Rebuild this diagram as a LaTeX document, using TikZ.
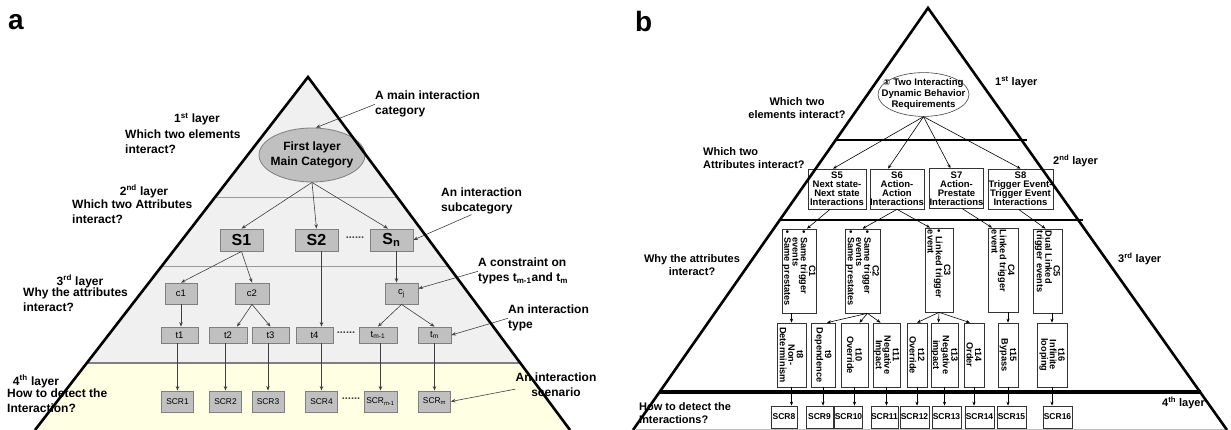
\documentclass[tikz,border=0pt]{standalone}
\usepackage{fontspec}
\setmainfont{Liberation Sans}
\newfontfamily\symfont{DejaVu Sans}
\usetikzlibrary{arrows.meta,calc,shapes.geometric}

\definecolor{layergray}{HTML}{F0F0F0}
\definecolor{layeryellow}{HTML}{FFFFE3}
\definecolor{boxgray}{HTML}{C0C0C0}
\definecolor{boxedge}{HTML}{7F7F7F}
\definecolor{rulegray}{HTML}{9A9A9A}
\definecolor{arrowgray}{HTML}{404040}

\begin{document}
\begin{tikzpicture}[x=1pt,y=-1pt,
  edge/.style={line width=2.6pt, line join=miter},
  panellabel/.style={font=\fontsize{28}{28}\selectfont\bfseries, inner sep=0pt, anchor=base west},
  % panel a
  qa/.style={font=\fontsize{12}{15}\selectfont\bfseries, inner sep=0pt, align=left, anchor=north west},
  layera/.style={font=\fontsize{12}{15}\selectfont\bfseries, inner sep=0pt, anchor=north},
  gbox/.style={draw=boxedge, fill=boxgray, line width=0.8pt, inner sep=0pt},
  sbox/.style={gbox, minimum width=43pt, minimum height=22pt, font=\fontsize{16}{16}\selectfont\bfseries},
  cbox/.style={gbox, minimum height=21pt, font=\fontsize{9.5}{10}\selectfont},
  tbox/.style={gbox, minimum height=16pt, font=\fontsize{9.5}{10}\selectfont},
  scrbox/.style={gbox, minimum width=32pt, minimum height=21pt, font=\fontsize{8.4}{9}\selectfont},
  dots/.style={font=\fontsize{11}{11}\selectfont\bfseries, inner sep=0pt, text=arrowgray},
  arr/.style={-{Stealth[length=4.5pt,width=3.5pt]}, line width=0.6pt, draw=arrowgray},
  % panel b
  qb/.style={font=\fontsize{11}{13.5}\selectfont\bfseries, inner sep=0pt},
  bS/.style={draw=black!80, line width=0.7pt, inner sep=0pt, align=center, minimum height=40pt,
    font=\fontsize{9.5}{8.9}\selectfont\bfseries},
  rC/.style={draw=black!80, line width=0.7pt, rotate=-90, inner sep=0pt, minimum width=84pt,
    text width=80pt, align=left, font=\fontsize{9.2}{8.3}\selectfont\bfseries},
  rT/.style={draw=black!80, line width=0.7pt, rotate=-90, inner sep=0pt, minimum width=64pt,
    align=center, font=\fontsize{9.2}{8.5}\selectfont\bfseries},
  scrb/.style={draw=black!80, line width=0.7pt, inner sep=0pt, minimum height=22pt,
    font=\fontsize{8.5}{9}\selectfont\bfseries},
  arrb/.style={-{Stealth[length=4pt,width=3.2pt]}, line width=0.6pt, draw=black},
]
\useasboundingbox (0,0) rectangle (1231,430);

% ================= panel a =================
\node[panellabel] (labA) at (8,30) {a};

\coordinate (aTop) at (308,77);
\coordinate (aBL) at (35,430);
\coordinate (aBR) at (570,430);
\coordinate (a1L) at ($(aTop)!0.34278!(aBL)$);
\coordinate (a1R) at ($(aTop)!0.34278!(aBR)$);
\coordinate (a2L) at ($(aTop)!0.53541!(aBL)$);
\coordinate (a2R) at ($(aTop)!0.53541!(aBR)$);
\coordinate (a3L) at ($(aTop)!0.81020!(aBL)$);
\coordinate (a3R) at ($(aTop)!0.81020!(aBR)$);

\fill[layergray] (aTop) -- (a3L) -- (a3R) -- cycle;
\fill[layeryellow] (a3L) -- (aBL) -- (aBR) -- (a3R) -- cycle;
\draw[rulegray, line width=1pt] (a1L) -- (a1R);
\draw[rulegray, line width=1pt] (a2L) -- (a2R);
\draw[boxedge, line width=1.6pt] (a3L) -- (a3R);

% layer questions
\node[layera] (La1) at (197,113) {1\textsuperscript{st} layer};
\node[qa] (Qa1) at (125,130) {Which two elements\\interact?};
\node[layera] (La2) at (144,185) {2\textsuperscript{nd} layer};
\node[qa] (Qa2) at (72,200) {Which two Attributes\\interact?};
\node[layera] (La3) at (80,275) {3\textsuperscript{rd} layer};
\node[qa] (Qa3) at (23,288) {Why the attributes\\interact?};
\node[layera] (La4) at (36,375) {4\textsuperscript{th} layer};
\node[qa] (Qa4) at (7,389) {How to detect the\\Interaction?};

% callout texts
\node[qa] (lblMain) at (375,91) {A main interaction\\category};
\node[qa] (lblSub) at (441,188) {An interaction\\subcategory};
\node[qa] (lblCon) at (478,258) {A constraint on\\types t\textsubscript{m-1}and t\textsubscript{m}};
\node[qa] (lblType) at (508,305) {An interaction\\type};
\node[qa, align=center, anchor=north] (lblScn) at (556,373) {An interaction\\scenario};

% hierarchy
\node[ellipse, draw=boxedge, fill=boxgray, line width=0.8pt, inner xsep=-5pt, inner ysep=0pt,
  minimum width=106pt, minimum height=54pt, align=center,
  font=\fontsize{12}{15}\selectfont\bfseries] (main) at (312,155) {First layer\\Main Category};

\node[sbox] (S1) at (241.5,240) {S1};
\node[sbox] (S2) at (316.5,240) {S2};
\node[sbox] (Sn) at (391.5,240) {S\textsubscript{n}};
\node[dots] (dotsS) at (355,238) {......};

\node[cbox, minimum width=32pt] (c1) at (181,293.5) {c1};
\node[cbox, minimum width=34pt] (c2) at (252,293.5) {c2};
\node[cbox, minimum width=33pt] (cj) at (401.5,293.5) {c\textsubscript{j}};

\node[tbox, minimum width=37pt] (t1) at (179.5,335) {t1};
\node[tbox, minimum width=38pt] (t2) at (228,335) {t2};
\node[tbox, minimum width=37pt] (t3) at (270.5,335) {t3};
\node[tbox, minimum width=37pt] (t4) at (314.5,335) {t4};
\node[tbox, minimum width=38pt] (tm1) at (378,335) {t\textsubscript{m-1}};
\node[tbox, minimum width=33pt] (tm) at (434.5,335) {t\textsubscript{m}};
\node[dots] (dotsT) at (346,333) {......};

\node[scrbox] (SCR1) at (177.5,401.5) {SCR1};
\node[scrbox] (SCR2) at (225.5,401.5) {SCR2};
\node[scrbox] (SCR3) at (268,401.5) {SCR3};
\node[scrbox] (SCR4) at (321.5,401.5) {SCR4};
\node[scrbox, minimum width=33pt] (SCRm1) at (380.5,401.5) {SCR\textsubscript{m-1}};
\node[scrbox] (SCRm) at (434.5,401.5) {SCR\textsubscript{m}};
\node[dots] (dotsR) at (351,399) {......};

\draw[arr] (main.south) -- (S1.north);
\draw[arr] (main.south) -- (S2.north);
\draw[arr] (main.south) -- ([xshift=-3.5pt]Sn.north);
\draw[arr] (S1.south) -- (c1.north);
\draw[arr] (S1.south) -- (c2.north);
\draw[arr] ([xshift=5pt]Sn.south) -- ([xshift=5pt]Sn.south |- cj.north);
\draw[arr] ([xshift=5pt]S2.south) -- ([xshift=5pt]S2.south |- t4.north);
\draw[arr] (c1.south) -- (c1.south |- t1.north);
\draw[arr] (c2.south) -- ([xshift=9pt]t2.north);
\draw[arr] (c2.south) -- (t3.north);
\draw[arr] (cj.south) -- (tm1.north);
\draw[arr] (cj.south) -- (tm.north);
\draw[arr] (t1.south -| SCR1.north) -- (SCR1.north);
\draw[arr] (t2.south -| SCR2.north) -- (SCR2.north);
\draw[arr] (t3.south -| SCR3.north) -- (SCR3.north);
\draw[arr] (t4.south -| SCR4.north) -- (SCR4.north);
\draw[arr] (tm1.south -| SCRm1.north) -- (SCRm1.north);
\draw[arr] (tm.south -| SCRm.north) -- (SCRm.north);

\draw[arr] (lblMain.west) -- ([xshift=4pt]main.north);
\draw[arr] ([xshift=-10pt]lblSub.south) -- (Sn.east);
\draw[arr] (lblCon.west) -- ([yshift=5pt]cj.east);
\draw[arr] (lblType.west) -- (tm.east);
\draw[arr] ([yshift=-4pt]lblScn.west) -- (SCRm.east);

\draw[edge] (aBL) -- (aTop) -- (aBR);

% ================= panel b =================
\node[panellabel] (labB) at (635,32) {b};

\coordinate (bTop) at (928,8);
\coordinate (bBL) at (633,430);
\coordinate (bBR) at (1227,430);

\draw[black!25, line width=1.2pt] (636,429.4) -- (1225,429.4);
\draw[line width=1.3pt] (836,140) -- (1027,140);
\draw[line width=1.3pt] (779,220) -- (1083,220);
\draw[line width=3.2pt] (660,392) -- (1201,392);

% layer questions and names
\node[qb, align=center, anchor=north] (Qb1) at (797,97) {Which two\\elements interact?};
\node[qb, align=left, anchor=north west] (Qb2) at (703,147) {Which two\\Attributes interact?};
\node[qb, align=center, anchor=north] (Qb3) at (692,254) {Why the attributes\\interact?};
\node[qb, align=left, anchor=north west] (Qb4) at (639,402) {How to detect the\\Interactions?};
\node[qb, anchor=north west] (Lb1) at (995,76) {1\textsuperscript{st} layer};
\node[qb, anchor=north west] (Lb2) at (1053,155) {2\textsuperscript{nd} layer};
\node[qb, anchor=north west] (Lb3) at (1118,253) {3\textsuperscript{rd} layer};
\node[qb, anchor=north west] (Lb4) at (1162,397) {4\textsuperscript{th} layer};

% first layer
\node[ellipse, draw=black!75, line width=0.6pt, inner xsep=-10pt, inner ysep=0pt,
  minimum width=91pt, minimum height=43pt, align=center,
  font=\fontsize{9.6}{11}\selectfont\bfseries] (req) at (923.5,94.5)
  {{\symfont\fontsize{8.5}{8.5}\selectfont ①} Two Interacting\\Dynamic Behavior\\Requirements};

% second layer
\node[bS, minimum width=58pt] (S5) at (837,189) {S5\\Next state-\\Next state\\Interactions};
\node[bS, minimum width=54pt] (S6) at (897,189) {S6\\Action-\\Action\\Interactions};
\node[bS, minimum width=53pt] (S7) at (956.5,188.5) {S7\\Action-\\Prestate\\Interactions};
\node[bS, minimum width=65pt] (S8) at (1020.5,189) {S8\\Trigger Event-\\Trigger Event\\Interactions};

% third layer: constraints
\node[rC, minimum height=34pt] (C1) at (799,271)
  {\makebox[80pt]{C1}\\\textbullet\ Same trigger\\\phantom{\textbullet\ }events\\\textbullet\ Same prestates};
\node[rC, minimum height=35pt] (C2) at (862.5,271)
  {\makebox[80pt]{C2}\\\textbullet\ Same trigger\\\phantom{\textbullet\ }events\\\textbullet\ Same prestates};
\node[rC, minimum height=28pt] (C3) at (939,270)
  {\makebox[80pt]{C3}\\\textbullet\ Linked trigger\\event};
\node[rC, minimum height=30pt] (C4) at (1003,270)
  {\makebox[80pt]{C4}\\Linked trigger\\event};
\node[rC, minimum height=29pt] (C5) at (1047.5,271)
  {\makebox[80pt]{C5}\\Dual Linked\\trigger events};

% third layer: interaction types
\node[rT, minimum height=29pt] (t8) at (791.5,355) {t8\\Non-\\Determinism};
\node[rT, minimum height=24pt] (t9) at (823,355) {t9\\Dependence};
\node[rT, minimum height=27pt] (t10) at (854.5,355) {t10\\Override};
\node[rT, minimum height=27pt] (t11) at (886.5,355) {t11\\Negative\\Impact};
\node[rT, minimum height=20pt] (t12) at (917,355) {t12\\Override};
\node[rT, minimum height=27pt] (t13) at (944.5,355) {t13\\Negative\\impact};
\node[rT, minimum height=20pt] (t14) at (974,355) {t14\\Order};
\node[rT, minimum height=20pt] (t15) at (1008,355) {t15\\Bypass};
\node[rT, minimum height=30pt] (t16) at (1052,355) {t16\\Infinite\\looping};

% fourth layer: scenarios
\node[scrb, minimum width=26pt] (SCR8) at (784,417) {SCR8};
\node[scrb, minimum width=27pt] (SCR9) at (819.5,417) {SCR9};
\node[scrb, minimum width=27pt] (SCR10) at (848.5,417) {SCR10};
\node[scrb, minimum width=27pt] (SCR11) at (884.5,417) {SCR11};
\node[scrb, minimum width=29pt] (SCR12) at (914.5,417) {SCR12};
\node[scrb, minimum width=29pt] (SCR13) at (946.5,417) {SCR13};
\node[scrb, minimum width=29pt] (SCR14) at (979.5,417) {SCR14};
\node[scrb, minimum width=29pt] (SCR15) at (1011.5,417) {SCR15};
\node[scrb, minimum width=29pt] (SCR16) at (1057.5,417) {SCR16};

% connectors
\draw[arrb] (req.south) -- ([xshift=-4pt]S5.north);
\draw[arrb] (req.south) -- ([xshift=-9pt]S6.north);
\draw[arrb] (req.south) -- ([xshift=-6pt]S7.north);
\draw[arrb] (req.south) -- (S8.north);

\draw[arrb] ([xshift=-7pt]S5.south) -- ([xshift=8pt]C1.west);
\draw[arrb] (S6.south) -- (C2.west);
\draw[arrb] (S6.south) -- ([xshift=-9pt]C3.west);
\draw[arrb] ([xshift=6pt]S7.south) -- ([xshift=-11pt]C4.west);
\draw[arrb] ([xshift=-2pt]S8.south) -- ([xshift=-2pt]C5.west);

\draw[arrb] (t8.west |- C1.east) -- (t8.west);
\draw[arrb] ([xshift=5pt]C2.east) -- ([xshift=4pt]t9.west);
\draw[arrb] ([xshift=5pt]C2.east) -- ([xshift=5pt]t10.west);
\draw[arrb] ([xshift=5pt]C2.east) -- ([xshift=-6pt]t11.west);
\draw[arrb] (C3.east) -- (t12.west);
\draw[arrb] (C3.east) -- ([xshift=-6pt]t13.west);
\draw[arrb] (C3.east) -- ([xshift=-4pt]t14.west);
\draw[arrb] (t15.west |- C4.east) -- (t15.west);
\draw[arrb] (t16.west |- C5.east) -- (t16.west);

\draw[arrb] (t8.east) -- (t8.east |- SCR8.north);
\draw[arrb] (t9.east) -- (t9.east |- SCR9.north);
\draw[arrb] (t10.east) -- (t10.east |- SCR10.north);
\draw[arrb] (t11.east) -- (t11.east |- SCR11.north);
\draw[arrb] (t12.east) -- (t12.east |- SCR12.north);
\draw[arrb] (t13.east) -- (t13.east |- SCR13.north);
\draw[arrb] (t14.east) -- (t14.east |- SCR14.north);
\draw[arrb] (t15.east) -- (t15.east |- SCR15.north);
\draw[arrb] (t16.east) -- (t16.east |- SCR16.north);

\draw[edge] (bBL) -- (bTop) -- (bBR);
\end{tikzpicture}
\end{document}
